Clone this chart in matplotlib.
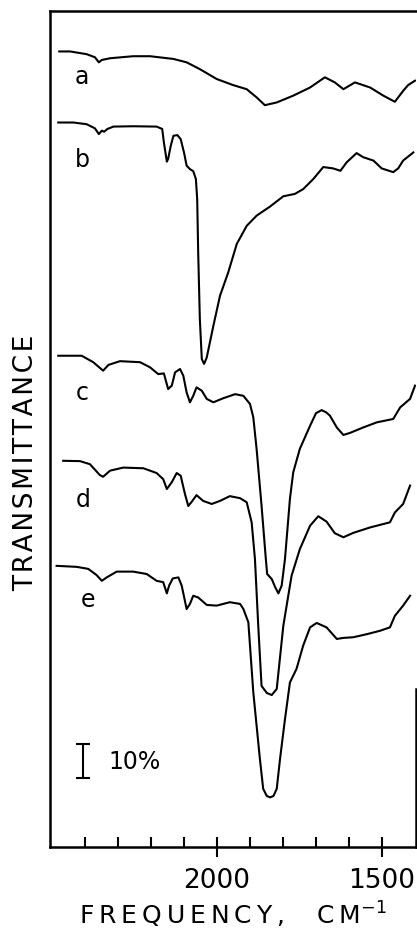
import numpy as np
import matplotlib.pyplot as plt
from matplotlib.ticker import FixedLocator

# IR spectra, frequency in cm-1, transmittance in % (curves stacked with offsets)
a_freq = [2478, 2445, 2395, 2370, 2358, 2349, 2324, 2254, 2203, 2132, 2092, 2052, 2001, 1951,
          1910, 1880, 1855, 1819, 1769, 1718, 1673, 1643, 1617, 1582, 1536, 1496, 1461, 1436,
          1421, 1400]
a_T = [234.0, 234.0, 233.2, 232.3, 230.8, 231.5, 232.0, 232.6, 232.6, 231.8, 230.8, 228.8, 225.9,
       224.1, 222.9, 220.5, 218.2, 219.0, 221.0, 223.4, 226.4, 224.9, 222.9, 224.9, 223.4, 221.0,
       219.2, 222.4, 224.1, 225.4]

b_freq = [2481, 2435, 2395, 2370, 2358, 2349, 2342, 2332, 2314, 2254, 2183, 2166, 2161, 2152,
          2148, 2140, 2132, 2120, 2110, 2100, 2092, 2082, 2072, 2064, 2060, 2057, 2052, 2046,
          2039, 2031, 2011, 1991, 1966, 1940, 1910, 1880, 1839, 1799, 1764, 1739, 1708, 1678,
          1648, 1626, 1607, 1577, 1557, 1526, 1501, 1466, 1451, 1436, 1405]
b_T = [213.1, 213.1, 212.6, 211.4, 209.7, 210.7, 210.4, 211.2, 211.9, 212.0, 211.9, 211.2, 207.3,
       201.6, 202.4, 206.3, 209.2, 209.4, 208.2, 204.3, 200.4, 199.4, 198.8, 196.5, 190.6, 175.0,
       155.3, 143.5, 142.1, 144.0, 153.3, 162.1, 169.0, 177.4, 182.7, 185.7, 188.4, 191.4, 192.1,
       193.5, 196.5, 200.0, 199.6, 198.9, 201.4, 204.1, 202.9, 201.9, 199.6, 198.5, 199.6, 201.9,
       204.3]

c_freq = [2481, 2410, 2375, 2345, 2329, 2294, 2233, 2203, 2178, 2161, 2148, 2137, 2127, 2112,
          2102, 2092, 2082, 2072, 2062, 2046, 2031, 2011, 1981, 1945, 1920, 1900, 1890, 1880,
          1865, 1852, 1848, 1834, 1824, 1814, 1804, 1794, 1779, 1769, 1749, 1718, 1700, 1683,
          1670, 1658, 1637, 1617, 1597, 1557, 1516, 1466, 1445, 1415, 1400]
c_T = [144.5, 144.5, 142.6, 140.1, 141.8, 142.9, 142.6, 141.1, 139.1, 139.3, 134.7, 135.7, 139.6,
       140.6, 138.6, 133.7, 130.8, 132.7, 135.2, 134.2, 131.8, 130.8, 132.0, 133.2, 132.7, 130.3,
       126.4, 117.1, 100.4, 84.7, 80.3, 78.8, 76.5, 74.6, 76.9, 84.7, 102.4, 110.2, 117.1, 123.9,
       127.6, 128.5, 127.9, 126.9, 123.4, 121.2, 121.8, 123.4, 124.9, 125.9, 129.3, 131.8, 135.7]

d_freq = [2466, 2415, 2385, 2355, 2345, 2324, 2284, 2223, 2183, 2163, 2152, 2137, 2122, 2110,
          2097, 2087, 2077, 2062, 2042, 2016, 1991, 1961, 1930, 1910, 1895, 1885, 1875, 1865,
          1849, 1834, 1819, 1799, 1774, 1749, 1718, 1693, 1668, 1643, 1617, 1587, 1536, 1476,
          1461, 1436, 1415]
d_T = [113.6, 113.5, 112.6, 109.4, 108.9, 110.7, 111.6, 111.4, 110.0, 108.2, 105.3, 107.3, 110.0,
       109.2, 103.8, 100.3, 101.5, 103.5, 101.8, 100.9, 101.8, 103.2, 102.6, 101.4, 95.5, 84.7,
       65.1, 47.4, 45.3, 44.7, 46.5, 65.1, 79.8, 87.6, 94.5, 97.3, 95.7, 92.3, 91.1, 92.4, 94.0,
       95.5, 98.4, 100.9, 106.3]

e_freq = [2486, 2425, 2390, 2365, 2349, 2334, 2304, 2254, 2213, 2183, 2163, 2152, 2145, 2134,
          2117, 2107, 2092, 2082, 2072, 2057, 2031, 2001, 1961, 1930, 1920, 1905, 1890, 1870,
          1860, 1849, 1839, 1829, 1819, 1809, 1794, 1779, 1759, 1739, 1718, 1698, 1668, 1637,
          1617, 1587, 1546, 1506, 1476, 1461, 1436, 1415]
e_T = [82.7, 82.4, 81.8, 80.0, 78.3, 79.3, 81.0, 81.0, 80.3, 78.3, 77.9, 74.6, 76.9, 79.0, 79.3,
       76.9, 70.0, 71.5, 73.9, 73.4, 71.2, 71.0, 72.0, 71.5, 70.0, 66.1, 45.5, 25.9, 17.1, 15.0,
       14.6, 15.0, 17.1, 25.9, 37.6, 48.4, 52.4, 59.2, 64.6, 65.9, 64.6, 61.2, 61.5, 61.7, 62.6,
       63.6, 64.6, 68.0, 71.0, 73.9]

labels = ['a', 'b', 'c', 'd', 'e']
label_pos = [(2409, 226.8), (2409, 202.4), (2409, 133.8), (2406, 102.4), (2391, 72.9)]

fig = plt.figure(figsize=(4.17, 9.29), dpi=100)
ax = fig.add_axes([50 / 417, 81 / 929, 366 / 417, 836 / 929])

for fr, t in [(a_freq, a_T), (b_freq, b_T), (c_freq, c_T), (d_freq, d_T), (e_freq, e_T)]:
    ax.plot(fr, t, color='black', lw=1.5, solid_joinstyle='round')

for lab, (x, y) in zip(labels, label_pos):
    ax.text(x, y, lab, fontsize=17, ha='center', va='center')

# 10% scale bar
ax.errorbar([2406], [25.3], yerr=[5], color='black', lw=1.5, capsize=5, capthick=1.5)
ax.text(2330, 25.3, '10%', fontsize=17, ha='left', va='center')

ax.set_xlim(2506, 1397)
ax.set_ylim(0, 245.9)

ax.xaxis.set_major_locator(FixedLocator([2000, 1500]))
ax.xaxis.set_minor_locator(FixedLocator([2400, 2300, 2200, 2100, 1900, 1800, 1700, 1600]))
ax.tick_params(axis='x', which='major', direction='inout', length=15, width=1.5,
               labelsize=19, pad=7)
ax.tick_params(axis='x', which='minor', direction='in', length=7, width=1.5)
ax.set_yticks([])

for s in ['left', 'top', 'bottom']:
    ax.spines[s].set_linewidth(1.8)
ax.spines['right'].set_linewidth(1.8)
ax.spines['right'].set_bounds(0, 46.5)

ts = '\u2009'
ax.set_xlabel(ts.join('FREQUENCY,') + '    ' + ts.join('CM') + '$^{-1}$',
              fontsize=18, labelpad=4)
ax.set_ylabel('\u200a'.join('TRANSMITTANCE'), fontsize=19)
ax.yaxis.set_label_coords(-0.031, (848 - 463) / 836)

fig.savefig('out.png', dpi=100)
